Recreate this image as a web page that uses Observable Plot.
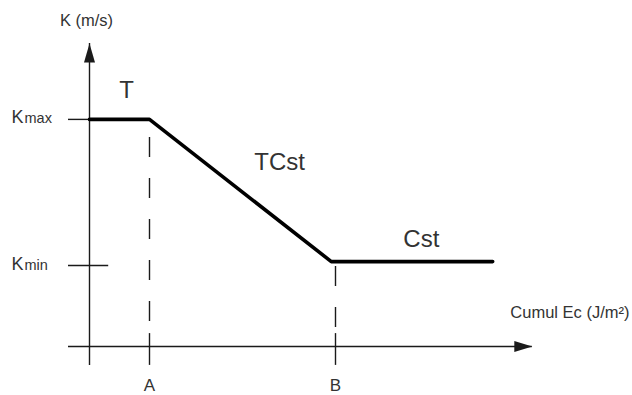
<!DOCTYPE html>
<html>
<head>
<meta charset="utf-8">
<script src="https://cdn.jsdelivr.net/npm/d3@7"></script>
<script src="https://cdn.jsdelivr.net/npm/@observablehq/plot@0.6"></script>
<style>
  html, body { margin: 0; padding: 0; background: #ffffff; }
  #chart { width: 632px; height: 395px; }
</style>
</head>
<body>
<div id="chart"></div>
<script>
// ---- Data (schematic units) ----
const xMarkNames = ["A", "B"];
const xMarkValues = [1.0, 4.1];

const yMarkNames = ["max", "min"];     // K subscripts: Kmax, Kmin
const yMarkValues = [7.57, 2.7];
const yTickRight = [0, 0.32];

const curveX = [0, 1.0, 4.03, 6.72];
const curveY = [7.57, 7.57, 2.83, 2.83];

const phaseNames = ["T", "TCst", "Cst"];
const phaseX = [0.62, 3.17, 5.53];
const phaseY = [8.3, 5.9, 3.33];

const axisXExtent = [-0.35, 7.38];
const axisYExtent = [-0.63, 10.1];
const tickTop = 0.43;

const yAxisTitle = "K (m/s)";
const xAxisTitle = "Cumul Ec (J/m²)";

// ---- Helpers ----
const textColor = "#333333";
const axisColor = "#1a1a1a";
const arrowUp = {draw(ctx) { ctx.moveTo(0, 0); ctx.lineTo(5.5, 19); ctx.lineTo(-5.5, 19); ctx.closePath(); }};
const arrowRight = {draw(ctx) { ctx.moveTo(0, 0); ctx.lineTo(-18, 5.5); ctx.lineTo(-18, -5.5); ctx.closePath(); }};

const curve = curveX.map((x, i) => ({x, y: curveY[i]}));
const guideTopY = xMarkValues.map(xv => {
  const i = curveX.findIndex(v => Math.abs(v - xv) < 0.2);
  return curveY[i >= 0 ? i : curveY.length - 1];
});

const chart = Plot.plot({
  width: 632,
  height: 395,
  margin: 0,
  x: {domain: [-89 / 60, (632 - 89) / 60], range: [0, 632], axis: null},
  y: {domain: [(346 - 395) / 30, 346 / 30], range: [395, 0], axis: null},
  style: {fontFamily: "'Liberation Sans', Arial, sans-serif", background: "#ffffff"},
  marks: [
    // axes
    Plot.ruleY([0], {x1: axisXExtent[0], x2: axisXExtent[1], stroke: axisColor, strokeWidth: 1.4}),
    Plot.ruleX([0], {y1: axisYExtent[0], y2: axisYExtent[1], stroke: axisColor, strokeWidth: 1.4}),
    Plot.dot([0], {x: 0, y: axisYExtent[1], symbol: arrowUp, r: 5, fill: axisColor, stroke: "none"}),
    Plot.dot([0], {x: axisXExtent[1], y: 0, symbol: arrowRight, r: 5, fill: axisColor, stroke: "none"}),
    // y ticks
    Plot.ruleY(yMarkValues, {y: d => d, x1: axisXExtent[0], x2: (d, i) => yTickRight[i], stroke: axisColor, strokeWidth: 1.4}),
    // x ticks
    Plot.ruleX(xMarkValues, {x: d => d, y1: tickTop, y2: axisYExtent[0], stroke: axisColor, strokeWidth: 1.4}),
    // dashed guides
    Plot.ruleX([xMarkValues[0]], {x: d => d, y1: guideTopY[0], y2: tickTop, stroke: axisColor, strokeWidth: 1.4, strokeDasharray: "20,21", strokeDashoffset: 23}),
    Plot.ruleX([xMarkValues[1]], {x: d => d, y1: guideTopY[1], y2: tickTop, stroke: axisColor, strokeWidth: 1.4, strokeDasharray: "20,21", strokeDashoffset: 36}),
    // main curve
    Plot.line(curve, {x: "x", y: "y", stroke: "#000000", strokeWidth: 3.6, strokeLinejoin: "miter"}),
    // phase labels
    Plot.text(phaseNames, {x: (d, i) => phaseX[i], y: (d, i) => phaseY[i], text: d => d, fontSize: 24, lineAnchor: "bottom", fill: textColor}),
    // y tick labels: K + subscript-like suffix
    Plot.text(yMarkNames, {x: axisXExtent[0], y: (d, i) => yMarkValues[i], text: () => "K", textAnchor: "start", dx: -57, dy: 4, lineAnchor: "bottom", fontSize: 18, fill: textColor}),
    Plot.text(yMarkNames, {x: axisXExtent[0], y: (d, i) => yMarkValues[i], text: d => d, textAnchor: "start", dx: -44, dy: 4, lineAnchor: "bottom", fontSize: 14.5, fill: textColor}),
    // x tick labels
    Plot.text(xMarkNames, {x: (d, i) => xMarkValues[i], y: axisYExtent[0], text: d => d, dy: 26, lineAnchor: "bottom", fontSize: 17, fill: textColor}),
    // axis titles
    Plot.text([yAxisTitle], {x: 0, y: axisYExtent[1], text: d => d, dx: -3, dy: -18, lineAnchor: "bottom", fontSize: 16.5, fill: textColor}),
    Plot.text([xAxisTitle], {x: axisXExtent[1], y: 0, text: d => d, textAnchor: "start", dx: -22, dy: -29, lineAnchor: "bottom", fontSize: 16.5, fill: textColor})
  ]
});

document.getElementById("chart").appendChild(chart);
</script>
</body>
</html>
